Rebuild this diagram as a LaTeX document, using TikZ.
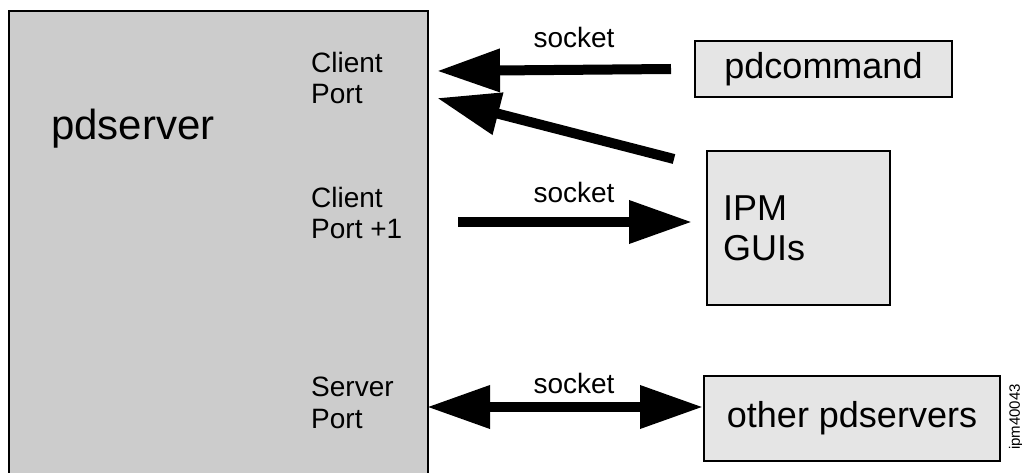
\documentclass[tikz,border=0pt]{standalone}
\usepackage{fontspec}
\setmainfont{Liberation Sans}
\usetikzlibrary{arrows.meta}

\begin{document}
\begin{tikzpicture}[x=1pt,y=-1pt]
    \tikzstyle{srvbox} = [draw, line width=2pt, fill=black!20, inner sep=0pt, anchor=north west]
    \tikzstyle{ext} = [draw, line width=2pt, fill=black!10, inner sep=0pt,
        font=\fontsize{36}{40}\selectfont]
    \tikzstyle{port} = [inner sep=0pt, align=left, anchor=north west,
        font=\fontsize{28}{31.5}\selectfont]
    \tikzstyle{sock} = [inner sep=0pt, anchor=base, font=\fontsize{28}{31.5}\selectfont]
    \tikzstyle{pipe} = [line width=10pt, -{Triangle[length=63pt,width=41pt]}]

    \useasboundingbox (0,0) rectangle (1022,473);

    % the server
    \node[srvbox, minimum width=419pt, minimum height=480pt] (srv) at (8,10) {};
    \node[inner sep=0pt, anchor=base west, font=\fontsize{42}{46}\selectfont] (pdserver) at (51,140) {pdserver};
    \node[port] (cport) at (311,52) {Client\\Port};
    \node[port] (cport1) at (311,187) {Client\\Port +1};
    \node[port] (sport) at (311,377) {Server\\Port};

    % the clients
    \node[ext, minimum width=257pt, minimum height=56pt] (pdcommand) at (823.5,69) {pdcommand};
    \node[ext, minimum width=183pt, minimum height=154pt, text width=151pt, inner xsep=16pt, align=left] (gui) at (798.5,228) {IPM\\GUIs};
    \node[ext, minimum width=296pt, minimum height=85pt] (others) at (852,418.5) {other pdservers};
    \node[inner sep=0pt, rotate=90, font=\fontsize{15}{16}\selectfont] (tag) at (1016,417) {ipm40043};

    % sockets
    \coordinate (cin) at (437,71);
    \coordinate (cin2) at (437,98);
    \coordinate (cout) at (458,222);
    \coordinate (sp) at (427,407);

    \draw[pipe] ([xshift=-23pt]pdcommand.west) -- (cin);
    \draw[pipe] ([shift={(-32pt,-9pt)}]gui.north west) -- (cin2);
    \draw[pipe] (cout) -- ([shift={(-14pt,6pt)}]gui.west);
    \draw[pipe, {Triangle[length=63pt,width=41pt]}-{Triangle[length=63pt,width=41pt]}] (sp) -- (others.west |- sp);

    \node[sock] (s1) at (574,48) {socket};
    \node[sock] (s2) at (574,202) {socket};
    \node[sock] (s3) at (574,393) {socket};
\end{tikzpicture}
\end{document}
